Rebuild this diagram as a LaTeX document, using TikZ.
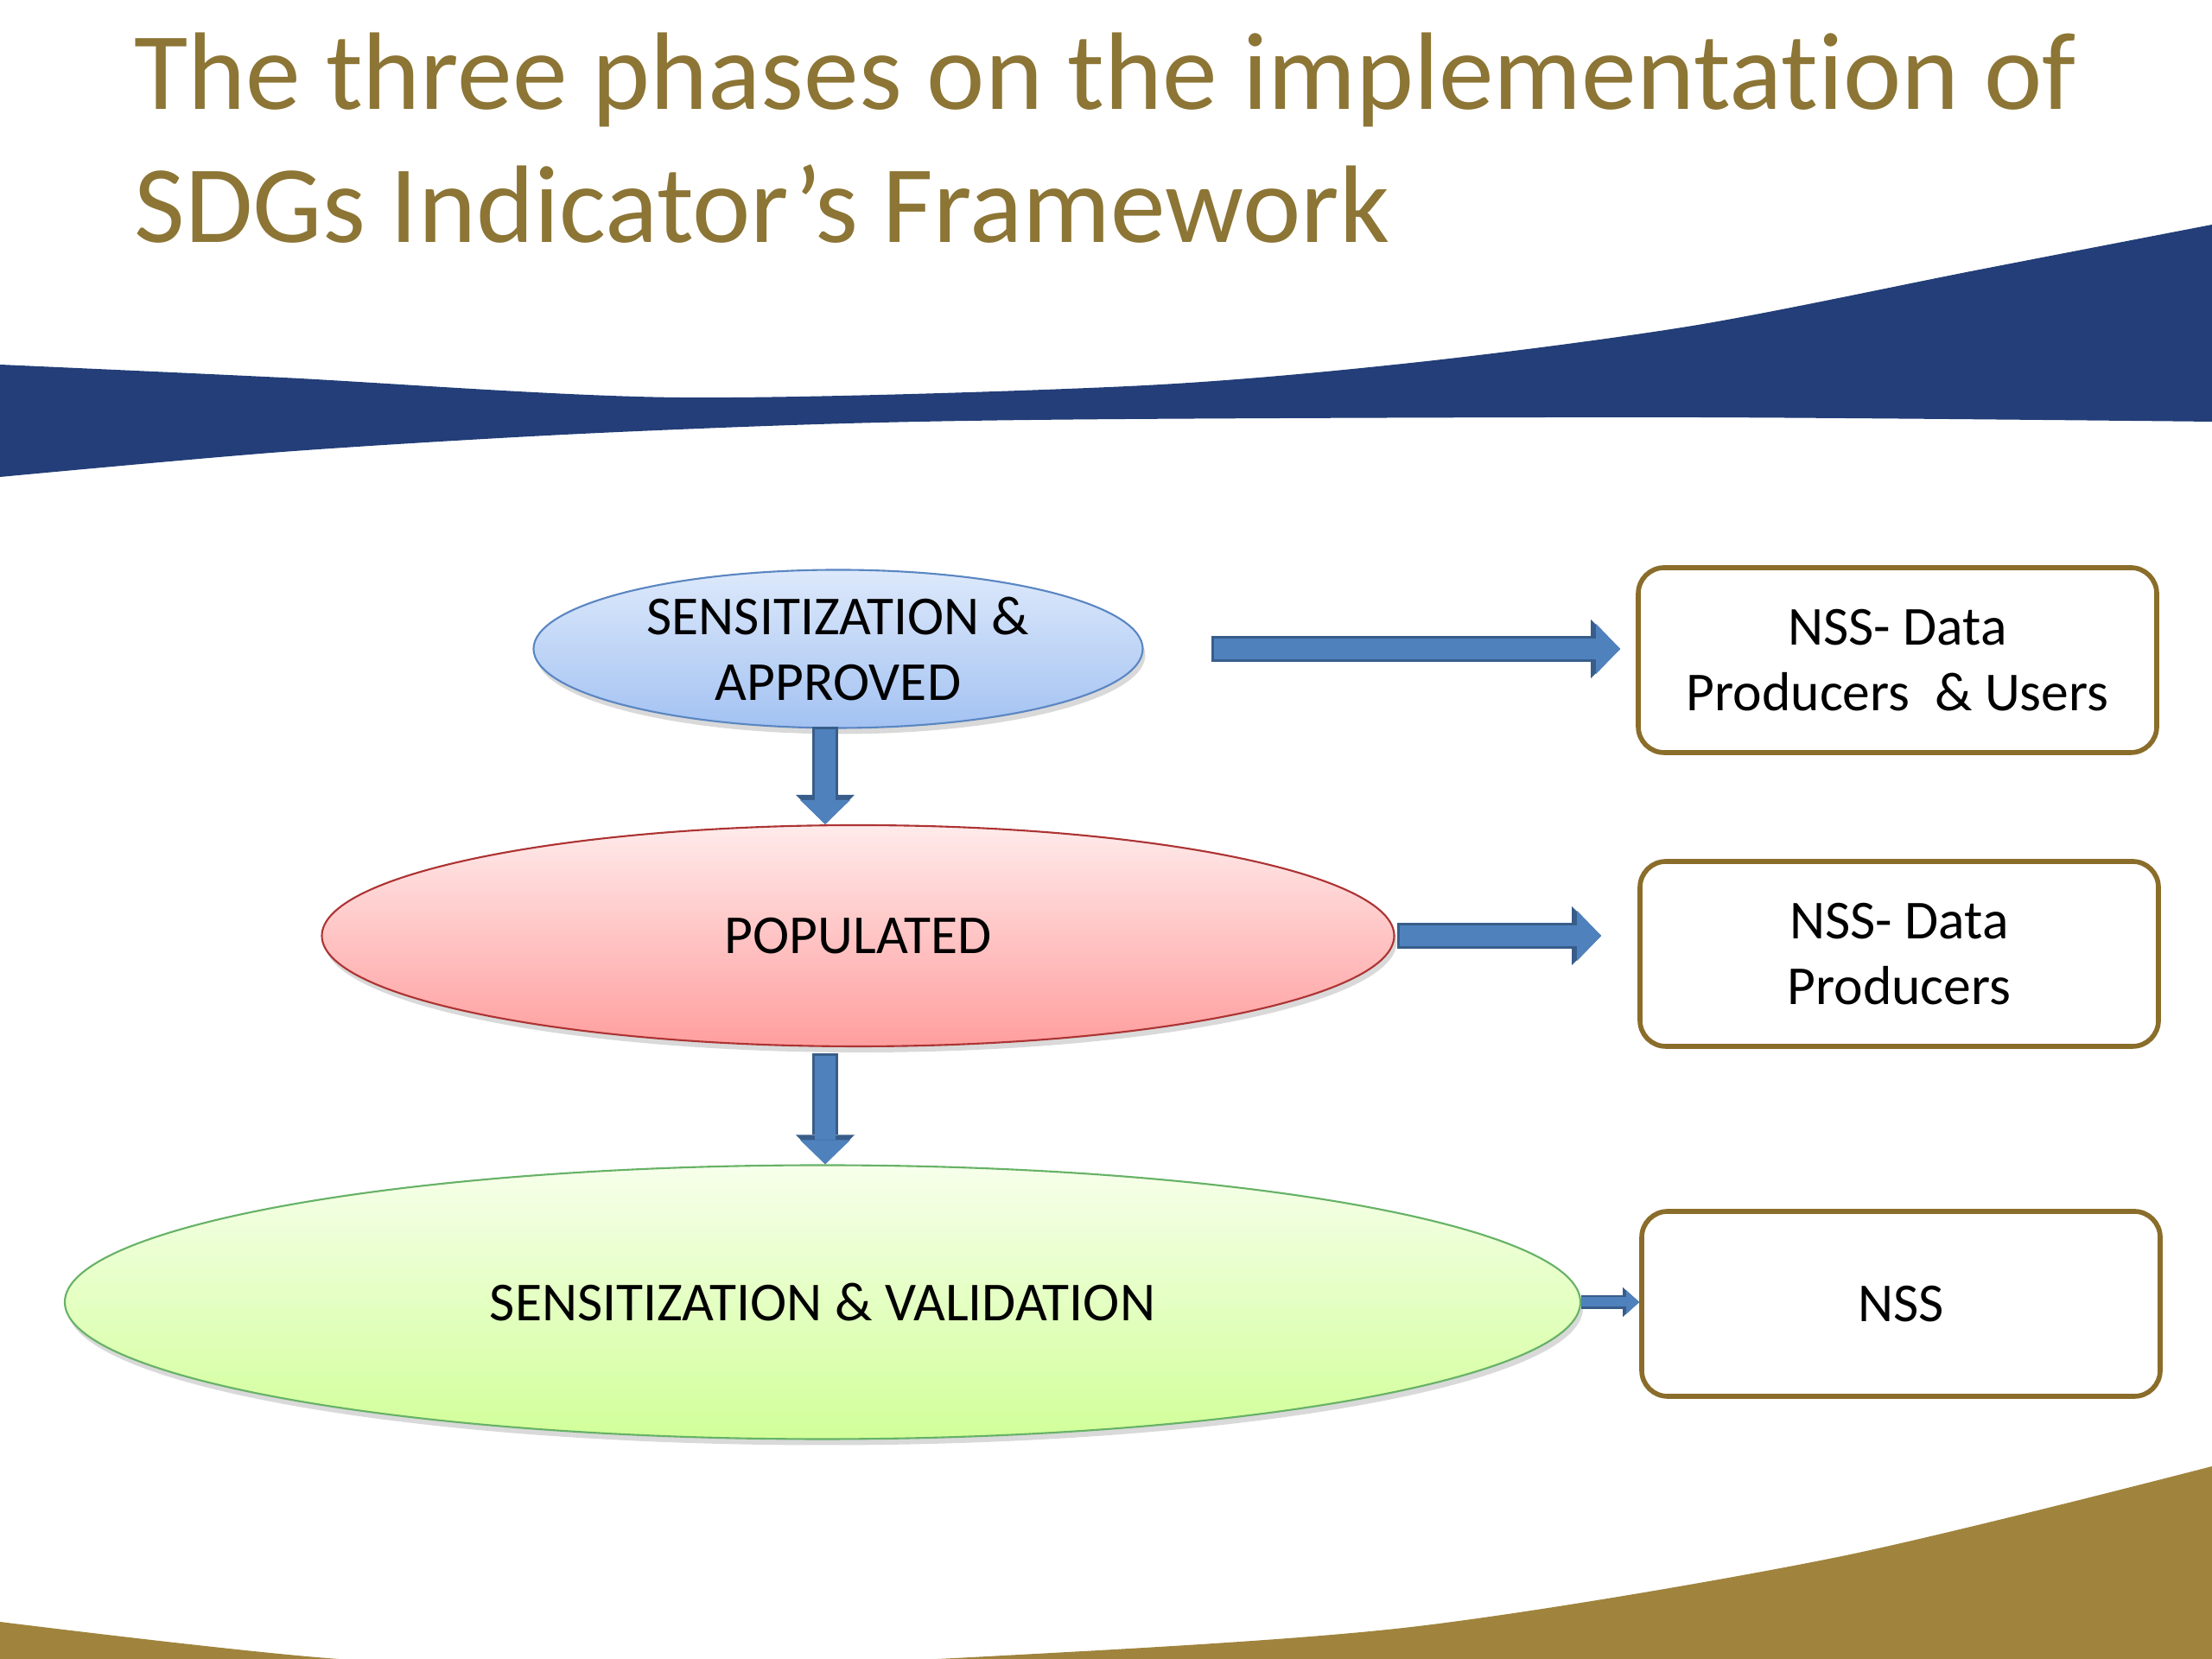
\documentclass[tikz,border=0pt]{standalone}
\usepackage{fontspec}
\setmainfont{Carlito}[Ligatures=CommonOff]
\usetikzlibrary{calc, arrows.meta, positioning, shapes.geometric, shadows}
\definecolor{titlegold}{HTML}{8C7535}
\definecolor{boxgold}{HTML}{8A6D2A}
\definecolor{bandblue}{HTML}{233E78}
\definecolor{bandgold}{HTML}{A0843D}
\definecolor{flowblue}{HTML}{4F81BD}
\definecolor{flowedge}{HTML}{385D8A}
\definecolor{apptop}{HTML}{DDE9FB}
\definecolor{appbottom}{HTML}{A3C2F2}
\definecolor{appedge}{HTML}{5A86C2}

\tikzset{
  title/.style={text=titlegold, inner sep=0pt, font=\fontsize{36.3}{44}\selectfont},
  phase/.style={ellipse, line width=0.6pt, inner sep=0pt, align=center,
    font=\fontsize{18.1}{21.8}\selectfont,
    drop shadow={shadow xshift=0.03cm, shadow yshift=-0.07cm, opacity=0.3}},
  target/.style={rectangle, rounded corners=0.3cm, draw=boxgold, line width=1.6pt,
    fill=white, minimum width=6.0cm, minimum height=2.14cm, align=center,
    font=\fontsize{18.1}{21.8}\selectfont},
  bigflow/.style={draw=flowblue, line width=0.24cm,
    -{Triangle[length=0.28cm, width=0.58cm, line width=0pt]},
    preaction={draw=flowedge, line width=0.3cm, shorten <=-0.03cm,
      -{Triangle[length=0.34cm, width=0.68cm, line width=0pt]}}},
  smallflow/.style={draw=flowblue, line width=0.11cm,
    -{Triangle[length=0.15cm, width=0.27cm, line width=0pt]},
    preaction={draw=flowedge, line width=0.16cm,
      -{Triangle[length=0.19cm, width=0.34cm, line width=0pt]}}}
}

\begin{document}
\begin{tikzpicture}
    \useasboundingbox (0,0) rectangle (25.6,19.2);
    \begin{scope}
        \clip (0,0) rectangle (25.6,19.2);
        \fill[bandblue] plot[smooth] coordinates {(0,14.98) (3.27,14.83) (7.84,14.60) (13.06,14.73) (16.33,15.00) (19.59,15.43) (22.86,16.07) (25.6,16.60)}
            -- plot[smooth] coordinates {(25.6,14.32) (19.59,14.37) (13.06,14.35) (9.80,14.30) (6.53,14.17) (3.27,13.97) (0,13.68)} -- cycle;
        \fill[bandgold] plot[smooth] coordinates {(0,0.43) (3.92,0) (7.7,-0.1) (11.43,0.03) (16.33,0.37) (21.22,1.17) (25.6,2.23)}
            -- (25.6,-0.5) -- (0,-0.5) -- cycle;
    \end{scope}

    \node[title, anchor=base west] (title) at (1.55,17.93) {The three phases on the implementation of};
    \node[title, anchor=base west] (title2) at (1.55,16.39) {SDGs Indicator’s Framework};

    \node[phase, draw=appedge, top color=apptop, bottom color=appbottom,
        minimum width=7.05cm, minimum height=1.83cm] (sensapp) at (9.70,11.69) {SENSITIZATION \&\\APPROVED};
    \node[phase, draw=red!60!black!80, top color=red!8, bottom color=red!38,
        minimum width=12.41cm, minimum height=2.56cm] (populated) at (9.93,8.37) {POPULATED};
    \node[phase, draw=green!50!black!60, top color=green!40!yellow!8, bottom color=green!45!yellow!40,
        minimum width=17.54cm, minimum height=3.17cm] (sensval) at (9.52,4.13) {SENSITIZATION \& VALIDATION};

    \node[target] (usersbox) at (21.96,11.56) {NSS- Data\\Producers \ \& Users};
    \node[target] (producersbox) at (21.98,8.16) {NSS- Data\\Producers};
    \node[target] (nssbox) at (22.00,4.11) {NSS};

    \draw[bigflow] ($(sensapp.east)+(0.81,0)$) -- ($(sensapp.east -| usersbox.west)+(-0.18,0)$);
    \draw[bigflow] ($(populated.east)+(0.05,0)$) -- ($(populated.east -| producersbox.west)+(-0.42,0)$);
    \draw[smallflow] (sensval.east) -- (sensval.east -| nssbox.west);

    \coordinate (downone) at ($(sensapp.south)+(-0.15,0)$);
    \draw[bigflow] (downone) -- (downone |- populated.north);
    \coordinate (downtwo) at ($(populated.south)+(-0.38,-0.1)$);
    \draw[bigflow] (downtwo) -- (downtwo |- sensval.north);
\end{tikzpicture}
\end{document}
